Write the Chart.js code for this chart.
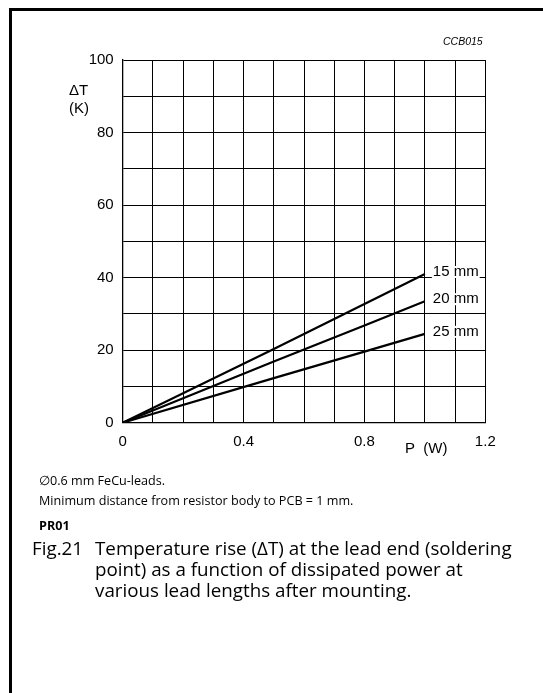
<!DOCTYPE html>
<html>
<head>
<meta charset="utf-8">
<script src="https://cdn.jsdelivr.net/npm/chart.js@4.4.1/dist/chart.umd.min.js"></script>
<style>
  html, body { margin: 0; padding: 0; background: #fff; }
  #page { position: relative; width: 543px; height: 693px; overflow: hidden; }
  #frame { position: absolute; left: 9px; top: 8px; width: 540px; height: 700px;
           border-left: 3px solid #000; border-top: 3px solid #000; }
  #wrap { position: absolute; left: 0; top: 0; width: 543px; height: 480px; }
  .ax { position: absolute; font-family: "Liberation Sans", Arial, sans-serif; font-size: 15px; color: #000; line-height: 18px; }
  .note { position: absolute; font-family: "Open Sans", "Noto Sans", sans-serif; font-size: 12.6px; color: #000; white-space: nowrap; }
  .cap { position: absolute; font-family: "Open Sans", "Noto Sans", sans-serif; font-size: 18.8px; line-height: 21px; color: #000; white-space: nowrap; }
</style>
</head>
<body>
<div id="page">
  <div id="frame"></div>
  <div id="wrap"><canvas id="grafica"></canvas></div>
  <div class="ax" style="left:443px; top:32px; font-size:10.5px; font-style:italic;">CCB015</div>
  <div class="ax" style="left:69px; top:81px;">&Delta;T<br>(K)</div>
  <div class="ax" style="left:405px; top:439px;">P&nbsp;&nbsp;(W)</div>
  <div class="note" style="left:39px; top:472px;">&empty;0.6 mm FeCu-leads.</div>
  <div class="note" style="left:39px; top:492px;">Minimum distance from resistor body to PCB = 1 mm.</div>
  <div class="note" style="left:39px; top:517px; font-weight:bold;">PR01</div>
  <div class="cap" style="left:32px; top:538px;">Fig.21</div>
  <div class="cap" style="left:95px; top:538px;">Temperature rise (&Delta;T) at the lead end (soldering<br>point) as a function of dissipated power at<br>various lead lengths after mounting.</div>
</div>
<script>
const power = [0, 0.5, 0.8, 1.0];
const rise15 = [0, 20.3, 32.7, 41];
const rise20 = [0, 16.9, 26.8, 33.5];
const rise25 = [0, 12.3, 19.6, 24.5];
const seriesNames = ['15 mm', '20 mm', '25 mm'];
const xLabelTicks = [0, 0.4, 0.8, 1.2];
const yLabelTicks = [0, 20, 40, 60, 80, 100];

function pts(ys) {
  return power.map((p, i) => ({ x: p, y: ys[i] }));
}

// writes the lead length at the end of each line
const endLabels = {
  id: 'endLabels',
  afterDatasetsDraw(chart) {
    const ctx = chart.ctx;
    ctx.save();
    ctx.font = '15px "Liberation Sans", Arial, sans-serif';
    ctx.textBaseline = 'middle';
    chart.data.datasets.forEach((ds, i) => {
      const meta = chart.getDatasetMeta(i);
      const last = meta.data[meta.data.length - 1];
      const x = last.x + 8, y = last.y - 2;
      const w = ctx.measureText(ds.label).width;
      ctx.fillStyle = '#fff';
      ctx.fillRect(x - 1, y - 6, w + 2, 12);
      ctx.fillStyle = '#000';
      ctx.fillText(ds.label, x, y);
    });
    ctx.restore();
  }
};

new Chart(document.getElementById('grafica'), {
  type: 'scatter',
  data: {
    datasets: [rise15, rise20, rise25].map((ys, i) => ({
      label: seriesNames[i],
      data: pts(ys),
      showLine: true,
      borderColor: '#000',
      borderWidth: 2.2,
      pointRadius: 0,
      tension: 0
    }))
  },
  options: {
    responsive: true,
    maintainAspectRatio: false,
    animation: false,
    layout: { padding: { top: 60, right: 57.7, left: 0, bottom: 0 } },
    plugins: { legend: { display: false }, tooltip: { enabled: false } },
    scales: {
      x: {
        type: 'linear', min: 0, max: 1.2,
        afterFit(s) { s.height = 57.3; },
        ticks: {
          stepSize: 0.1, autoSkip: false, padding: 10, color: '#000',
          font: { family: '"Liberation Sans", Arial, sans-serif', size: 15 },
          callback: v => xLabelTicks.some(t => Math.abs(t - v) < 1e-6) ? String(Math.round(v * 10) / 10) : ''
        },
        grid: { color: '#000', lineWidth: 1, drawTicks: false },
        border: { color: '#000', width: 1.3 }
      },
      y: {
        min: 0, max: 100,
        afterFit(s) { s.width = 122.7; },
        ticks: {
          stepSize: 10, autoSkip: false, padding: 9, color: '#000',
          font: { family: '"Liberation Sans", Arial, sans-serif', size: 15 },
          callback: v => yLabelTicks.includes(v) ? String(v) : ''
        },
        grid: { color: '#000', lineWidth: 1, drawTicks: false },
        border: { color: '#000', width: 1.3 }
      }
    }
  },
  plugins: [endLabels]
});
</script>
</body>
</html>
